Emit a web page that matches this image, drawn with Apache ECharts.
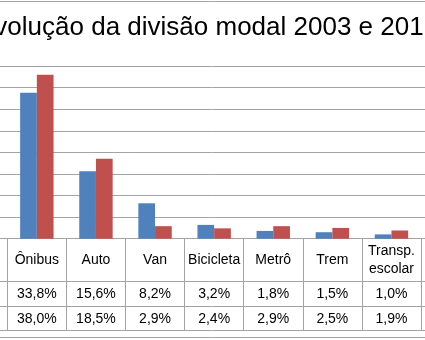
<!DOCTYPE html>
<html><head><meta charset="utf-8">
<script src="https://cdn.jsdelivr.net/npm/echarts@6/dist/echarts.min.js"></script>
<style>
html,body{margin:0;padding:0;overflow:hidden;background:#fff;width:425px;height:340px;position:relative}
#chart{position:absolute;left:-60px;top:0;width:545px;height:340px}
</style>
</head><body><div id="chart"></div>
<script>
const titleText = 'Evolução da divisão modal 2003 e 2012';
const categories = ['Ônibus', 'Auto', 'Van', 'Bicicleta', 'Metrô', 'Trem', 'Transp.\nescolar'];
const seriesNames = ['2003', '2012'];
const values2003 = [33.8, 15.6, 8.2, 3.2, 1.8, 1.5, 1.0];
const values2012 = [38.0, 18.5, 2.9, 2.4, 2.9, 2.5, 1.9];
const yMin = 0, yMax = 40, yInterval = 5;

function pct(v) { return v.toFixed(1).replace('.', ',') + '%'; }

const FONT = 'Liberation Sans';
const LINE = '#a3a3a3';
const gridTop = 66, gridBottom = 101.3;

const chart = echarts.init(document.getElementById('chart'), null, {renderer: 'canvas'});
const hiddenAxis = {axisLine: {show: false}, axisTick: {show: false}, axisLabel: {show: false}, splitLine: {show: false}};
function tableLine(offset) {
  return Object.assign({}, hiddenAxis, {
    gridIndex: 1, type: 'value', min: 0, max: 1, position: 'bottom', offset: offset,
    axisLine: {show: true, lineStyle: {color: LINE, width: 1}}
  });
}

chart.setOption({
  animation: false,
  backgroundColor: '#fff',
  title: {
    text: titleText, left: 32, top: 10,
    textStyle: {fontFamily: FONT, fontSize: 26, fontWeight: 'normal', color: '#000'}
  },
  graphic: [{
    type: 'rect', silent: true,
    shape: {x: 0.5, y: 1.5, width: 544, height: 336},
    style: {fill: 'none', stroke: LINE, lineWidth: 1}
  }],
  grid: [
    {left: 67.3, right: 64, top: gridTop, bottom: gridBottom},
    {left: 0, right: 0, top: gridTop, bottom: gridBottom}
  ],
  xAxis: [
    {
      gridIndex: 0, type: 'category', data: categories,
      axisLine: {show: false},
      axisTick: {show: true, length: 92, lineStyle: {color: LINE, width: 1}},
      axisLabel: {
        interval: 0, margin: 0, color: '#000', fontFamily: FONT, fontSize: 14,
        formatter: function (value, index) {
          let head;
          if (value.indexOf('\n') >= 0) {
            const parts = value.split('\n');
            head = '{ha|' + parts[0] + '}\n{hb|' + parts[1] + '}\n{sp| }';
          } else {
            head = '{h|' + value + '}';
          }
          return head + '\n{v1|' + pct(values2003[index]) + '}\n{v2|' + pct(values2012[index]) + '}';
        },
        rich: {
          h: {fontFamily: FONT, fontSize: 14, lineHeight: 43, color: '#000'},
          ha: {fontFamily: FONT, fontSize: 14, lineHeight: 24.6, color: '#000'},
          hb: {fontFamily: FONT, fontSize: 14, lineHeight: 12.4, color: '#000'},
          sp: {fontFamily: FONT, fontSize: 4, lineHeight: 6, color: '#000'},
          v1: {fontFamily: FONT, fontSize: 14, lineHeight: 25, color: '#000'},
          v2: {fontFamily: FONT, fontSize: 14, lineHeight: 24, color: '#000'}
        }
      },
      splitLine: {show: false}
    },
    tableLine(0),
    tableLine(43),
    tableLine(68),
    tableLine(92)
  ],
  yAxis: [
    Object.assign({}, hiddenAxis, {gridIndex: 0, type: 'value', min: yMin, max: yMax, interval: yInterval}),
    Object.assign({}, hiddenAxis, {
      gridIndex: 1, type: 'value', min: yMin, max: yMax, interval: yInterval,
      splitLine: {show: true, lineStyle: {color: LINE, width: 1}}
    })
  ],
  series: [
    {name: seriesNames[0], type: 'bar', xAxisIndex: 0, yAxisIndex: 0, data: values2003,
     barWidth: 16.7, barGap: '0%', itemStyle: {color: '#4F81BD'}},
    {name: seriesNames[1], type: 'bar', xAxisIndex: 0, yAxisIndex: 0, data: values2012,
     barWidth: 16.7, barGap: '0%', itemStyle: {color: '#C0504D'}}
  ]
});
</script>
</body></html>
